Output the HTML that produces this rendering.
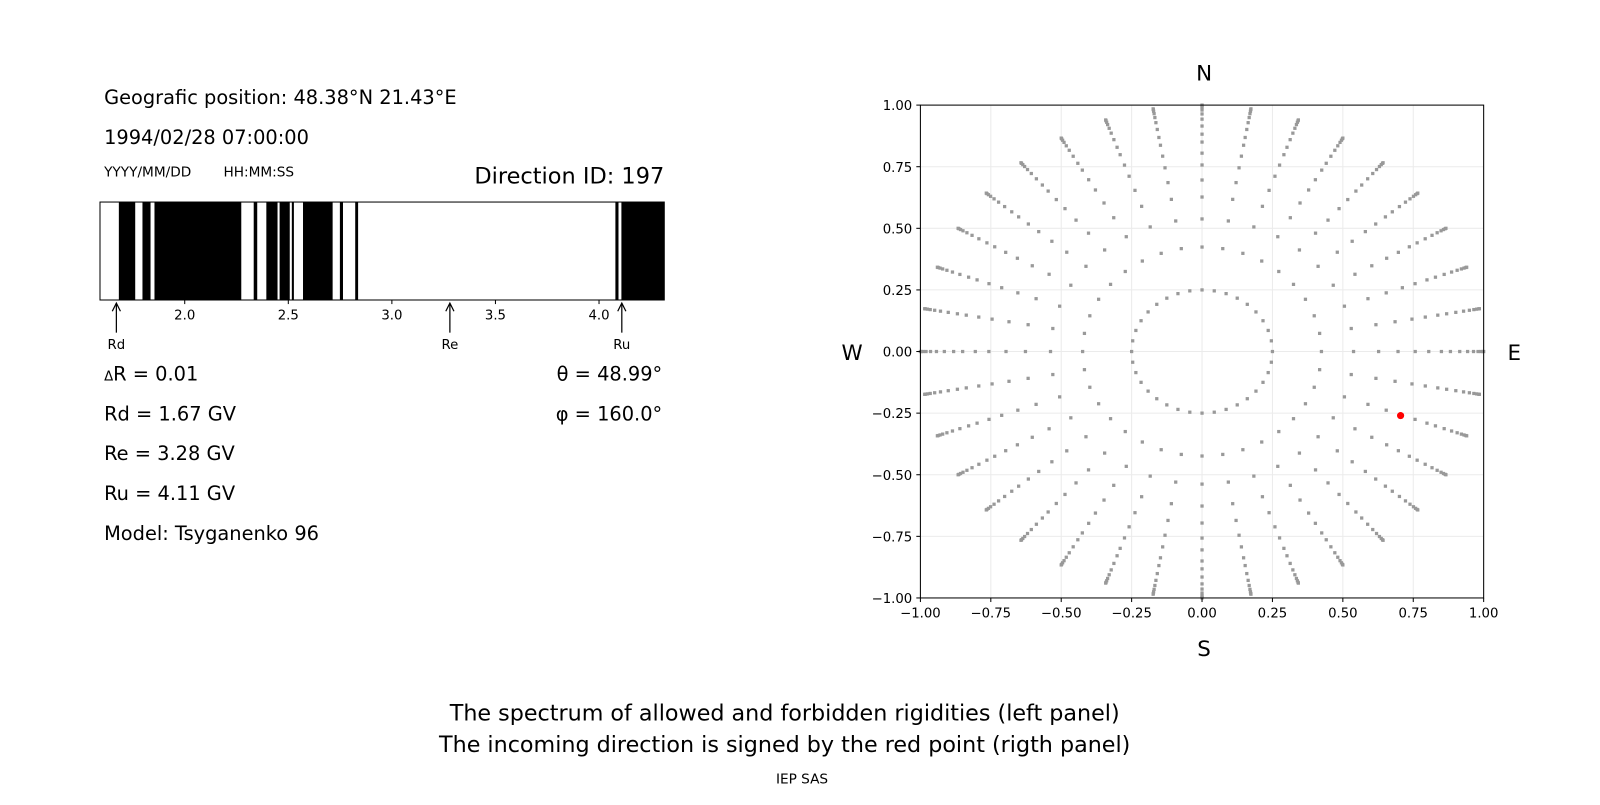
<!DOCTYPE html>
<html><head><meta charset="utf-8"><style>
body{margin:0;background:#fff;}
svg text{font-family:"DejaVu Sans","Liberation Sans",sans-serif;fill:#000;}
</style></head><body>
<svg id="chart" width="1600" height="800" xmlns="http://www.w3.org/2000/svg">
<rect width="1600" height="800" fill="#fff"/>
<g transform="scale(1.0204)">
<text x="102" y="102" font-size="19">Geografic position: 48.38°N 21.43°E</text>
<text x="102" y="141" font-size="19">1994/02/28 07:00:00</text>
<text x="102" y="173" font-size="13.4">YYYY/MM/DD</text>
<text x="219" y="173" font-size="13.4">HH:MM:SS</text>
<text x="651" y="180" font-size="22" text-anchor="end">Direction ID: 197</text>
<g id="spectrum"></g>
<text x="102" y="373" font-size="19"><tspan font-size="13">Δ</tspan>R = 0.01</text>
<text x="102" y="412" font-size="19">Rd = 1.67 GV</text>
<text x="102" y="451" font-size="19">Re = 3.28 GV</text>
<text x="102" y="490" font-size="19">Ru = 4.11 GV</text>
<text x="102" y="529" font-size="19">Model: Tsyganenko 96</text>
<text x="649" y="373" font-size="19" text-anchor="end">θ = 48.99°</text>
<text x="649" y="412" font-size="19" text-anchor="end">φ = 160.0°</text>
<g id="polar"></g>
<text x="1180" y="79" font-size="21" text-anchor="middle">N</text>
<text x="1180" y="643" font-size="21" text-anchor="middle">S</text>
<text x="835" y="353" font-size="21" text-anchor="middle">W</text>
<text x="1484" y="353" font-size="21" text-anchor="middle">E</text>
<text x="769" y="706" font-size="21.8" text-anchor="middle">The spectrum of allowed and forbidden rigidities (left panel)</text>
<text x="769" y="737" font-size="21.8" text-anchor="middle">The incoming direction is signed by the red point (rigth panel)</text>
<text x="786" y="768" font-size="13.4" text-anchor="middle">IEP SAS</text>
</g>
</svg>
<script>
const NS="http://www.w3.org/2000/svg";
// spectrum data
const forbiddenBands=[[1.682,1.761],[1.796,1.835],[1.854,2.273],[2.333,2.350],[2.394,2.448],[2.458,2.507],[2.517,2.527],[2.571,2.714],[2.749,2.764],[2.823,2.837],[4.079,4.094],[4.108,4.315]];
const spectrumTicks=[2.0,2.5,3.0,3.5,4.0];
const markerNames=["Rd","Re","Ru"];
const markerValues=[1.67,3.28,4.11];
// polar data
const spokeAngles=[];for(let a=0;a<360;a+=10)spokeAngles.push(a);
const ringRadii=[0.25,0.424,0.538,0.627,0.696,0.757,0.805,0.85,0.882,0.915,0.943,0.964,0.98,0.99,0.997,1.0];
const redPoint=[0.705,-0.26];
const polarTicks=[-1,-0.75,-0.5,-0.25,0,0.25,0.5,0.75,1];

function mk(tag,attrs,parent){const e=document.createElementNS(NS,tag);for(const k in attrs)e.setAttribute(k,attrs[k]);parent.appendChild(e);return e;}

// spectrum
const sp=document.getElementById('spectrum');
const sx0=98,sx1=651,sy0=198,sy1=294,dMin=1.591,dMax=4.315;
const sX=v=>sx0+(v-dMin)/(dMax-dMin)*(sx1-sx0);
forbiddenBands.forEach(b=>{
  const r=mk('rect',{x:sX(b[0]),y:sy0,width:sX(Math.min(b[1],dMax))-sX(b[0]),height:sy1-sy0,fill:'#000'},sp);
  
  
});
const fr=mk('rect',{x:sx0,y:sy0,width:sx1-sx0,height:sy1-sy0,fill:'none',stroke:'#000','stroke-width':1},sp);


spectrumTicks.forEach(t=>{
  const x=sX(t);
  mk('line',{x1:x,x2:x,y1:sy1,y2:sy1+4,stroke:'#000'},sp);
  const tx=mk('text',{x:x,y:sy1+19,'font-size':13,'text-anchor':'middle'},sp);
  tx.textContent=t.toFixed(1);
  
  
});
markerValues.forEach((v,i)=>{
  const x=sX(v);
  mk('line',{x1:x,x2:x,y1:298,y2:326,stroke:'#000','stroke-width':1.2},sp);
  mk('path',{d:`M${x-4},${305} L${x},${297} L${x+4},${305}`,fill:'none',stroke:'#000','stroke-width':1.2},sp);
  const tx=mk('text',{x:x,y:342,'font-size':13,'text-anchor':'middle'},sp);
  tx.textContent=markerNames[i];
  
  
});

// polar plot
const pg=document.getElementById('polar');
const px0=902,px1=1454,py0=103,py1=586;
const pX=v=>px0+(v+1)/2*(px1-px0);
const pY=v=>py1-(v+1)/2*(py1-py0);
polarTicks.forEach(t=>{
  mk('line',{x1:pX(t),x2:pX(t),y1:py0,y2:py1,stroke:'#ebebeb','stroke-width':1},pg);
  mk('line',{x1:px0,x2:px1,y1:pY(t),y2:pY(t),stroke:'#ebebeb','stroke-width':1},pg);
});
spokeAngles.forEach(a=>{
  const rad=a*Math.PI/180;
  ringRadii.forEach(r=>{
    const x=r*Math.sin(rad),y=r*Math.cos(rad);
    const d=mk('rect',{x:pX(x)-1.6,y:pY(y)-1.6,width:3.2,height:3.2,fill:'#999'},pg);
    
    
  });
});
const rp=mk('circle',{cx:pX(redPoint[0]),cy:pY(redPoint[1]),r:3.5,fill:'#f00'},pg);


const pf=mk('rect',{x:px0,y:py0,width:px1-px0,height:py1-py0,fill:'none',stroke:'#000','stroke-width':1},pg);


polarTicks.forEach(t=>{
  mk('line',{x1:pX(t),x2:pX(t),y1:py1,y2:py1+4,stroke:'#000'},pg);
  mk('line',{x1:px0-4,x2:px0,y1:pY(t),y2:pY(t),stroke:'#000'},pg);
  const lbl=(t<0?'\u2212':'')+Math.abs(t).toFixed(2);
  const a=mk('text',{x:pX(t),y:py1+19,'font-size':13,'text-anchor':'middle'},pg);
  a.textContent=lbl;
  
  
  const b=mk('text',{x:px0-8,y:pY(t)+5,'font-size':13,'text-anchor':'end'},pg);
  b.textContent=lbl;
  
  
});
</script>
</body></html>
